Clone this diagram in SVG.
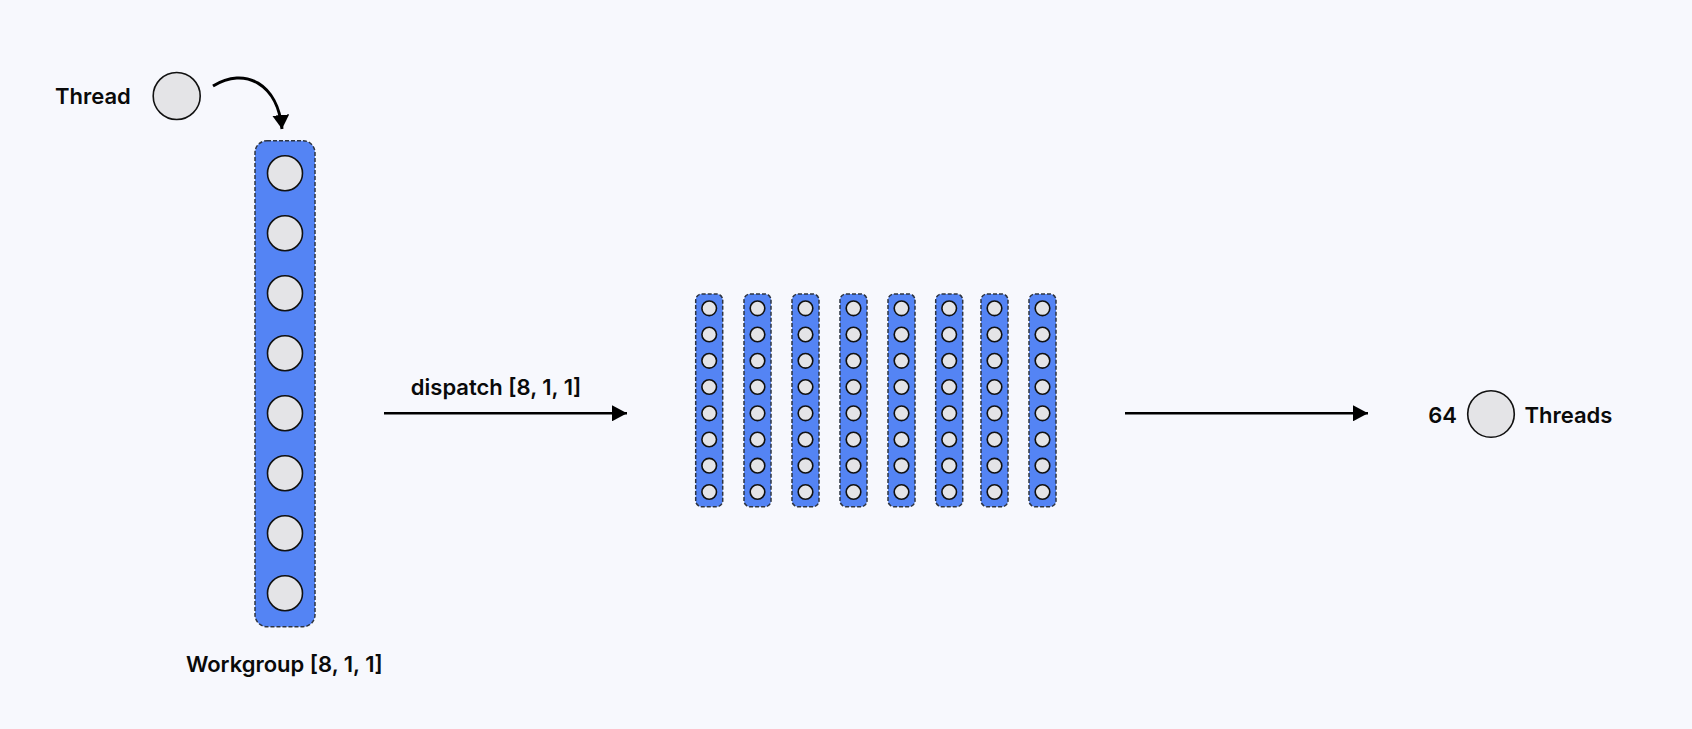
<svg xmlns="http://www.w3.org/2000/svg" width="1692" height="729" viewBox="0 0 1692 729">
<defs>
<style>
.t{font-family:Inter,"Noto Sans","Liberation Sans",sans-serif;font-weight:600;font-size:22px;fill:#0a0a0a}
.wg{fill:#5484f4;stroke:#2e3440;stroke-width:1.5;stroke-dasharray:4 2}
.th{fill:#e4e4e7;stroke:#111;stroke-width:1.6}
.ths{fill:#e4e4e7;stroke:#111;stroke-width:1.6}
.ln{fill:none;stroke:#000;stroke-width:2.6}
</style>
<marker id="ah" viewBox="0 0 15 16" refX="15" refY="8" markerWidth="15" markerHeight="16" markerUnits="userSpaceOnUse" orient="auto">
<path d="M0,0 L15,8 L0,16 Z" fill="#000"/>
</marker>
<marker id="ah2" viewBox="0 0 14 17" refX="14" refY="8.5" markerWidth="14" markerHeight="17" markerUnits="userSpaceOnUse" orient="auto">
<path d="M0,0 L14,8.5 L0,17 Z" fill="#000"/>
</marker>
<g id="col">
<rect class="wg" x="0" y="0" width="27" height="212.7" rx="6"/>
<circle class="ths" cx="13.5" cy="14.3" r="7.3"/>
<circle class="ths" cx="13.5" cy="40.5" r="7.3"/>
<circle class="ths" cx="13.5" cy="66.8" r="7.3"/>
<circle class="ths" cx="13.5" cy="93" r="7.3"/>
<circle class="ths" cx="13.5" cy="119.3" r="7.3"/>
<circle class="ths" cx="13.5" cy="145.5" r="7.3"/>
<circle class="ths" cx="13.5" cy="171.7" r="7.3"/>
<circle class="ths" cx="13.5" cy="198" r="7.3"/>
</g>
</defs>
<rect width="1692" height="729" fill="#f7f8fd"/>

<g id="thread">
<text class="t" x="55" y="104">Thread</text>
<circle class="th" cx="176.7" cy="96" r="23.5"/>
</g>

<g id="workgroup">
<rect class="wg" x="255" y="140.7" width="60" height="486" rx="12"/>
<circle class="th" cx="285" cy="173.3" r="17.5"/>
<circle class="th" cx="285" cy="233.3" r="17.5"/>
<circle class="th" cx="285" cy="293.3" r="17.5"/>
<circle class="th" cx="285" cy="353.3" r="17.5"/>
<circle class="th" cx="285" cy="413.3" r="17.5"/>
<circle class="th" cx="285" cy="473.3" r="17.5"/>
<circle class="th" cx="285" cy="533.3" r="17.5"/>
<circle class="th" cx="285" cy="593.3" r="17.5"/>
<text class="t" x="284.3" y="672" text-anchor="middle">Workgroup [8, 1, 1]</text>
</g>

<g id="dispatch-grid">
<use href="#col" x="695.7" y="294"/>
<use href="#col" x="744" y="294"/>
<use href="#col" x="792" y="294"/>
<use href="#col" x="840" y="294"/>
<use href="#col" x="888" y="294"/>
<use href="#col" x="935.7" y="294"/>
<use href="#col" x="981" y="294"/>
<use href="#col" x="1029" y="294"/>
</g>

<g id="threads64">
<text class="t" x="1457" y="422.5" text-anchor="end">64</text>
<circle class="th" cx="1491" cy="414" r="23.3"/>
<text class="t" x="1524.5" y="422.5">Threads</text>
</g>

<g id="connectors">
<path class="ln" d="M213,86 C245,66 278,84 282,129" marker-end="url(#ah2)" style="stroke-width:3"/>
<line class="ln" x1="384" y1="413.3" x2="627" y2="413.3" marker-end="url(#ah)"/>
<text class="t" x="496" y="394.5" text-anchor="middle">dispatch [8, 1, 1]</text>
<line class="ln" x1="1125" y1="413.3" x2="1368" y2="413.3" marker-end="url(#ah)"/>
</g>
</svg>
